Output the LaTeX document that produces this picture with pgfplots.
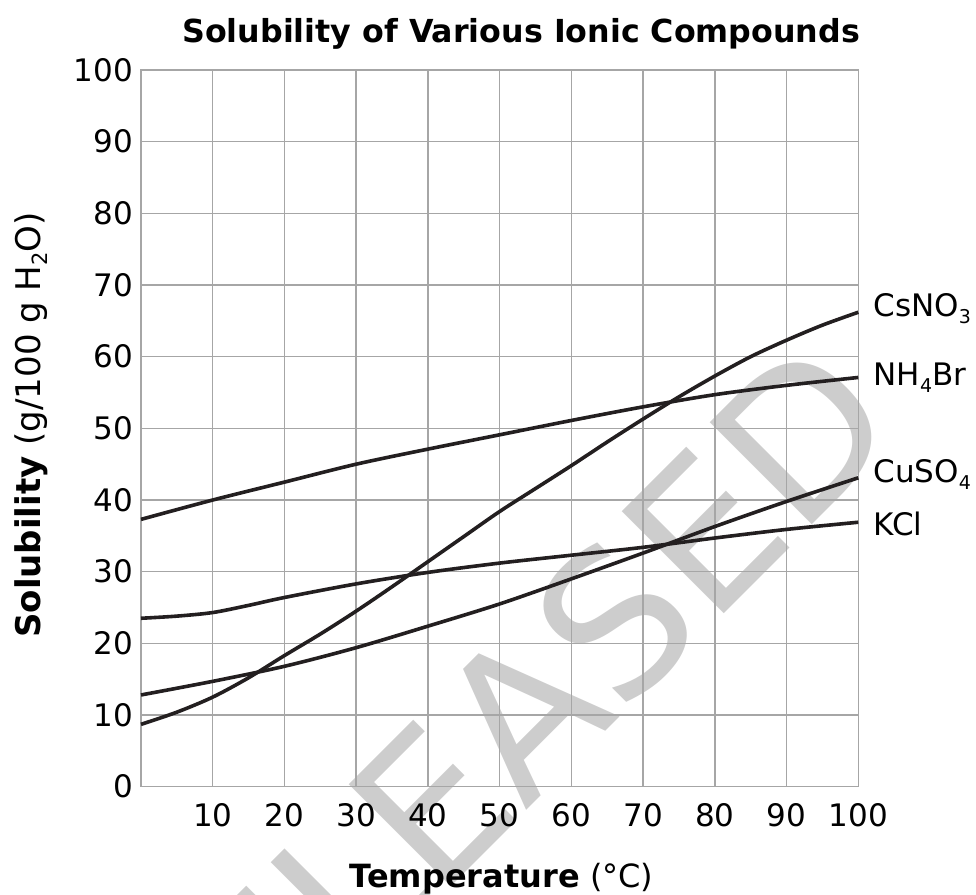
\documentclass[border=0pt]{standalone}
\usepackage{fontspec}
\setmainfont{DejaVu Sans}
\usepackage{pgfplots}
\pgfplotsset{compat=1.18}
\definecolor{curve}{HTML}{231F20}
\definecolor{gridc}{HTML}{A6A6A6}
\definecolor{wm}{HTML}{CDCDCD}
\newcommand\sub[1]{\raisebox{-7pt}{\fontsize{19}{20}\selectfont #1}}
\newcommand\subb[1]{\raisebox{-7.5pt}{\fontsize{21}{22}\selectfont #1}}
\begin{document}
\begin{tikzpicture}
\begin{axis}[
  set layers,
  scale only axis, width=717.3pt, height=716.7pt,
  xmin=0, xmax=100, ymin=0, ymax=100,
  xtick={10,20,...,100}, ytick={0,10,...,100},
  grid=major, major grid style={gridc, line width=1.5pt},
  axis line style={gridc, line width=1.5pt},
  major tick length=0pt,
  tick label style={font=\fontsize{31}{37}\selectfont, /pgf/number format/assume math mode=true},
  xticklabel style={anchor=center, yshift=-29pt, inner sep=0pt},
  yticklabel style={anchor=east, xshift=-8pt, inner sep=0pt},
  clip=false,
]
\begin{pgfonlayer}{axis background}
\node[rotate=45, text=wm, inner sep=0pt, font=\fontsize{198}{210}\selectfont] at (axis cs:48.5,5.6) {RELEASED};
\end{pgfonlayer}

% CsNO3
\addplot[curve, line width=3.6pt, smooth, tension=0.5] coordinates {
(0,8.7) (5,10.4) (10,12.5) (15,15.2) (20,18.3) (25,21.3) (30,24.5) (35,27.9) (40,31.4) (45,34.9) (50,38.4) (55,41.6) (60,44.8) (65,48.1) (70,51.3) (75,54.4) (80,57.3) (85,60.0) (90,62.3) (95,64.4) (100,66.2)};
% NH4Br
\addplot[curve, line width=3.6pt, smooth] coordinates {
(0,37.3) (10,40.0) (20,42.5) (30,45.0) (40,47.1) (50,49.1) (60,51.1) (70,53.0) (80,54.7) (90,56.0) (100,57.1)};
% KCl
\addplot[curve, line width=3.6pt, smooth] coordinates {
(0,23.5) (5,23.8) (10,24.3) (15,25.3) (20,26.4) (30,28.3) (40,29.9) (50,31.2) (60,32.3) (70,33.4) (80,34.7) (90,35.9) (100,36.9)};
% CuSO4
\addplot[curve, line width=3.6pt, smooth] coordinates {
(0,12.8) (10,14.7) (20,16.8) (30,19.4) (40,22.4) (50,25.5) (60,29.0) (70,32.6) (80,36.3) (90,39.8) (100,43.1)};

\node[anchor=base west, inner sep=0pt, font=\fontsize{31}{37}\selectfont] at (axis cs:102.1,65.57) {CsNO\sub{3}};
\node[anchor=base west, inner sep=0pt, font=\fontsize{31}{37}\selectfont] at (axis cs:102.1,55.94) {NH\sub{4}Br};
\node[anchor=base west, inner sep=0pt, font=\fontsize{31}{37}\selectfont] at (axis cs:102.1,42.42) {CuSO\sub{4}};
\node[anchor=base west, inner sep=0pt, font=\fontsize{31}{37}\selectfont] at (axis cs:102.1,34.98) {KCl};

\node[anchor=base, inner sep=0pt, font=\bfseries\fontsize{31.7}{37}\selectfont] at (axis cs:53.0,103.9) {Solubility of Various Ionic Compounds};
\node[anchor=base, inner sep=0pt, font=\fontsize{32}{38}\selectfont] at (axis cs:50.26,-14.13) {\textbf{Temperature} (°C)};
\node[anchor=base, rotate=90, inner sep=0pt, font=\fontsize{34}{40}\selectfont] at (axis cs:-14.08,50.47) {\textbf{Solubility} (g/100 g H\subb{2}O)};
\end{axis}
\pgfresetboundingbox
\path[use as bounding box] (-141pt,-107.3pt) rectangle (835pt,786.7pt);
\end{tikzpicture}
\end{document}
